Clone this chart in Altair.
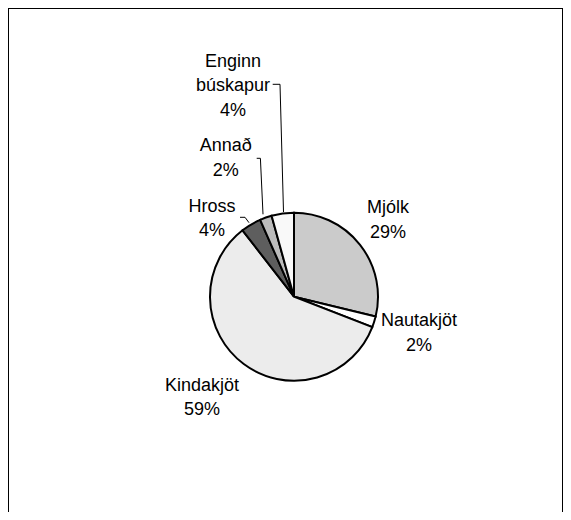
import altair as alt
import pandas as pd

# ---- data ----
categories = ["Mjólk", "Nautakjöt", "Kindakjöt", "Hross", "Annað", "Enginn búskapur"]
label_names = ["Mjólk", "Nautakjöt", "Kindakjöt", "Hross", "Annað", "Enginn\nbúskapur"]
values = [28.8, 2.1, 58.6, 3.9, 2.3, 4.3]

# ---- styling / layout ----
fills = ["#cbcbcb", "#ffffff", "#ececec", "#5e5e5e", "#bcbcbc", "#f9f9f9"]
W, H = 555, 504
cx, cy, R = 286, 288.7, 84
# label anchors (centre x, first-line baseline) in chart pixels
label_x = [380, 411, 194, 204, 217.8, 225]
label_y = [205.3, 318, 382.7, 203.5, 143, 58.5]
# leader lines (Hross, Annað, Enginn búskapur)
leader_grp = ["h", "h", "h", "a", "a", "a", "e", "e", "e"]
leader_x = [232, 237, 241, 248.7, 252.4, 255, 264.7, 272, 275.5]
leader_y = [209.3, 209.3, 214.7, 150.3, 150.3, 206.3, 76.3, 76.3, 204]

df = pd.DataFrame({
    "cat": categories,
    "value": values,
    "idx": list(range(len(categories))),
})

lab_df = pd.DataFrame({
    "label": [f"{n}\n{round(v)}%" for n, v in zip(label_names, values)],
    "lx": label_x,
    "ly": label_y,
})

lead_df = pd.DataFrame({
    "grp": leader_grp,
    "k": list(range(len(leader_grp))),
    "x": leader_x,
    "y": leader_y,
})

pie = alt.Chart(df).mark_arc(radius=R, stroke="black", strokeWidth=2).encode(
    theta=alt.Theta("value:Q", stack=True),
    order=alt.Order("idx:Q", sort="ascending"),
    fill=alt.Fill("cat:N", scale=alt.Scale(domain=categories, range=fills), legend=None),
    x=alt.value(cx),
    y=alt.value(cy),
)

labels = alt.Chart(lab_df).mark_text(
    font="Liberation Sans", fontSize=18, lineBreak="\n", lineHeight=24.5,
    align="center", baseline="alphabetic", color="black",
).encode(
    x=alt.X("lx:Q", scale=None),
    y=alt.Y("ly:Q", scale=None),
    text="label:N",
)

leaders = alt.Chart(lead_df).mark_line(color="black", strokeWidth=1).encode(
    x=alt.X("x:Q", scale=None),
    y=alt.Y("y:Q", scale=None),
    detail="grp:N",
    order="k:Q",
)

one = pd.DataFrame({"a": [0]})
top_border = alt.Chart(one).mark_rule(color="black", strokeWidth=2).encode(
    x=alt.value(0), x2=alt.value(W), y=alt.value(0))
left_border = alt.Chart(one).mark_rule(color="black", strokeWidth=2).encode(
    x=alt.value(0), y=alt.value(0), y2=alt.value(H))
right_border = alt.Chart(one).mark_rule(color="black", strokeWidth=1).encode(
    x=alt.value(554.5), y=alt.value(0), y2=alt.value(H))

chart = alt.layer(pie, leaders, labels, top_border, left_border, right_border).properties(
    width=W, height=H, padding=0, autosize="none", background="white",
).configure_view(stroke=None)

chart.save("out.html", embed_options={"renderer": "svg", "actions": False})
